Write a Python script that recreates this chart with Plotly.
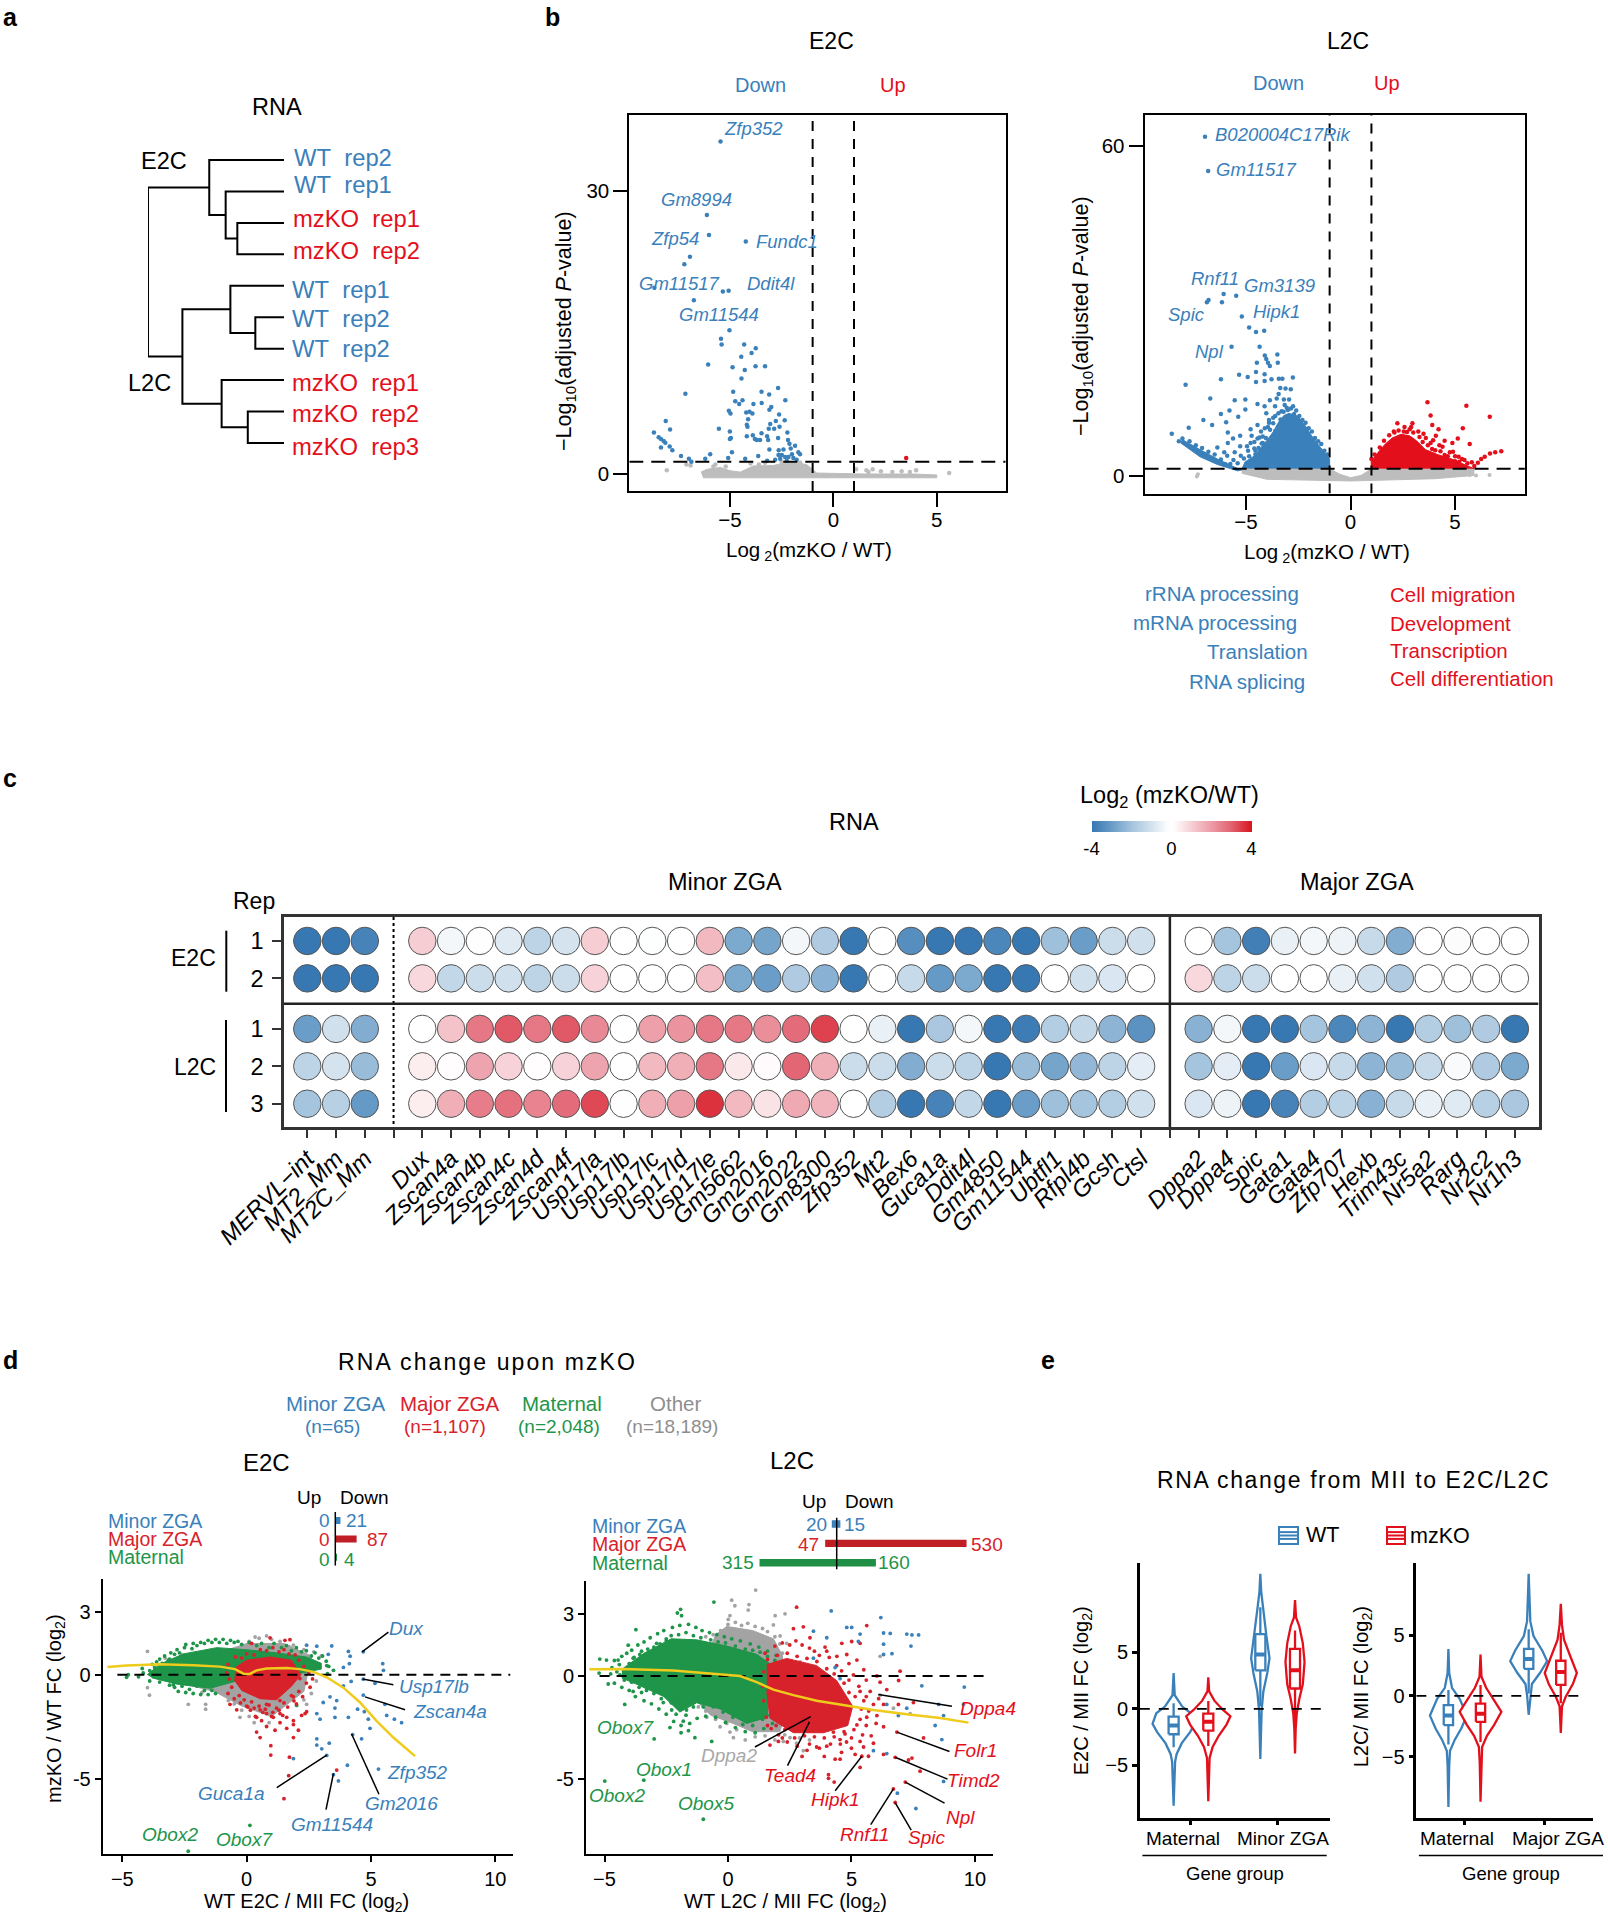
import plotly.graph_objects as go

W, H = 1608, 1920
FONT = "Liberation Sans"
BLUE, RED, GREEN = "#3A80BA", "#E3101C", "#1E9548"
GRAY = "#BDBDBD"
DGRAY = "#A3A3A3"
DRED = "#D8222B"
YELLOW = "#EFCB1B"

# ---------- a: dendrogram ----------
leaf_labels = ["WT rep2", "WT rep1", "mzKO rep1", "mzKO rep2", "WT rep1", "WT rep2", "WT rep2", "mzKO rep1", "mzKO rep2", "mzKO rep3"]
tree = (1.352, (0.743, 0, (0.58, 1, (0.464, 2, 3))),
        (1.01, (0.533, 4, (0.285, 5, 6)), (0.62, 7, (0.36, 8, 9))))

# ---------- b: volcano ----------
e2c_down = [(-5.45,35.2),(-6.11,27.4),(-6.01,25.3),(-4.23,24.6),(-6.93,23.0),(-7.2,22.2),(-8.65,19.7),(-5.34,19.3),(-5.06,19.4),(-6.74,18.4),
 (-5.02,15.2),(-5.43,14.3),(-5.4,13.7),(-4.31,13.7),(-3.75,13.3),(-3.95,12.8),(-4.45,12.4),(-6.05,11.6),(-4.87,11.3),(-3.76,11.4),(-3.3,11.4),
 (-4.28,11.0),(-4.44,10.1),(-7.15,8.5),(-4.84,8.7),(-3.47,8.7),(-2.67,9.1),(-3.1,8.4),(-2.32,7.8),(-4.74,7.7),(-4.55,7.4),(-4.39,7.8),(-3.86,7.4),
 (-3.46,7.5),(-3.0,7.1),(-3.09,6.8),(-5.05,6.7),(-4.97,6.4),(-4.21,6.5),(-4.05,6.6),(-3.91,6.4),(-4.12,5.8),(-4.18,5.2),(-4.15,5.0),(-8.1,5.6),
 (-7.89,4.7),(-8.67,4.4),(-5.53,4.8),(-5.0,4.5),(-3.05,5.3),(-2.78,5.6),(-2.62,6.3),(-2.35,5.7),(-2.6,5.0),(-2.86,4.8),(-3.12,4.8),(-2.22,4.4),
 (-3.47,4.3),(-3.2,4.0),(-3.89,4.1),(-4.18,4.0),(-4.95,3.8),(-5.0,3.7),(-8.44,3.9),(-8.33,3.7),(-8.2,3.5),(-8.12,3.3),(-7.91,2.9),(-8.33,2.8),
 (-7.78,2.5),(-7.36,1.9),(-6.98,1.6),(-6.86,1.3),(-6.19,1.6),(-5.95,2.1),(-4.9,2.3),(-5.08,1.7),(-3.63,1.9),(-4.26,1.6),(-3.79,3.7),(-3.54,3.6),
 (-3.7,3.6),(-3.15,3.6),(-2.67,3.8),(-2.19,3.6),(-2.12,3.2),(-1.85,3.0),(-2.06,2.7),(-1.69,2.3),(-3.09,2.6),(-2.64,2.5),(-2.41,2.6),(-1.61,2.1),
 (-2.17,1.8),(-1.93,1.7),(-2.57,1.6),(-2.81,1.5),(-3.2,1.4),(-2.25,1.4),(-1.77,1.5),(-2.65,2.0),(-2.49,2.0),(-2.33,1.8),(-2.0,2.1)]
e2c_up = [(3.52,1.7)]
e2c_ns_cloud = [(-6.4,0.2),(-6.1,0.5),(-5.46,0.7),(-5.0,0.35),(-4.5,0.2),(-3.86,0.85),(-2.9,0.9),(-2.1,1.3),(-1.29,1.0),(-0.8,0.1),(1.5,0.0),(3.86,0.0),(5.0,-0.1),(5.0,-0.4),(-6.3,-0.4)]
e2c_ns = [(-8.05,0.4),(-7.1,1.0),(-6.9,0.9),(-5.8,0.8),(1.6,0.4),(1.9,0.5),(2.3,0.3),(2.85,0.2),(3.3,0.3),(3.7,0.2),(4.0,0.4),(5.6,0.1),(1.1,0.5),(1.7,0.2),(-5.7,1.0),(-5.2,0.8),(-4.0,1.1),(-3.6,1.0),(-3.3,1.2),(-2.5,1.3),(-1.6,1.2)]

l2c_down = [(-6.96,61.7),(-6.81,55.5),(-6.07,33.1),(-5.47,32.8),(-6.15,31.6),(-6.79,32.0),(-6.87,31.6),(-5.2,29.0),(-4.85,27.0),(-4.52,26.2),(-4.13,26.4),
 (-5.69,23.5),(-4.35,23.5),(-3.5,22.1),(-4.1,21.9),(-4.03,21.3),(-3.95,20.6),(-3.86,20.0),(-4.48,20.6),(-3.48,20.6),(-7.89,16.6),(-6.2,17.6),(-5.33,18.4),
 (-4.92,18.0),(-4.52,18.9),(-4.52,17.1),(-4.11,17.3),(-3.78,17.6),(-4.11,18.5),(-3.43,17.7),(-3.26,17.7),(-2.76,17.9),(-6.71,14.1),(-5.54,13.8),(-5.03,13.9),
 (-3.36,16.0),(-3.11,15.9),(-2.86,15.8),(-3.44,14.9),(-3.53,14.1),(-3.19,13.9),(-2.94,13.9),(-3.86,13.8),(-4.45,13.1),(-4.11,12.7),(-3.61,12.7),(-5.79,11.9),
 (-6.2,11.3),(-5.37,10.8),(-5.03,12.1),(-7.04,10.2),(-6.62,9.3),(-7.74,8.8),(-8.55,7.7),(-8.04,6.8),(-8.21,6.3),(-5.95,9.8),(-5.87,7.9),(-5.62,6.8),(-5.28,7.3),
 (-5.87,6.0),(-5.28,5.4),(-4.78,8.5),(-4.73,7.3),(-4.78,6.0),(-4.45,9.3),(-4.28,8.1),(-4.03,11.4),(-4.45,6.8),(-4.2,6.0),(-6.37,5.2),(-6.04,4.3),(-5.54,4.3),
 (-3.9,10.2),(-3.6,10.9),(-3.3,11.8),(-3.0,12.0),(-2.7,11.3),(-4.6,5.0),(-4.9,4.6),(-3.95,8.9),(-3.7,9.6),(-4.2,7.2),
 (-5.4,2.3),(-5.1,3.2),(-5.0,2.2),(-4.85,3.6),(-4.7,2.7),(-4.55,3.9),(-4.4,5.1),(-4.3,3.3),(-4.15,4.4),(-4.05,6.9),(-3.95,5.6),(-3.85,8.4),(-3.75,4.9),(-3.65,7.6),
 (-3.55,6.4),(-3.45,9.0),(-3.35,10.3),(-3.2,11.7),(-3.05,12.4),(-2.85,12.3),(-2.6,11.9),(-2.45,10.9),(-2.3,10.2),(-2.15,9.7),(-2.0,8.7),(-1.85,8.1),(-1.7,6.9),(-1.55,6.3),
 (-1.4,5.8),(-1.25,4.6),(-1.12,3.9),(-5.6,2.9),(-5.9,3.7),(-6.2,3.0),(-6.5,3.9),(-6.8,4.4),(-7.1,5.1),(-7.4,5.6),(-7.7,6.3),(-5.75,2.2),(-4.95,5.4),(-4.6,6.2),(-4.35,7.0),
 (-4.1,8.7),(-3.9,9.7),(-3.6,8.2),(-3.15,12.9),(-2.75,12.7),(-3.45,11.4),(-3.7,10.6),(-4.55,4.6),(-4.25,5.9),(-5.25,3.7),(-6.0,2.2),(-6.6,3.1),(-7.0,3.9)]
l2c_down_cloud = [(-1.0,1.3),(-1.0,3.1),(-1.44,5.2),(-1.86,7.3),(-2.19,9.3),(-2.53,10.9),(-2.94,11.4),(-3.19,11.0),(-3.44,9.8),(-3.7,8.0),(-4.0,6.5),(-4.3,5.0),(-4.62,3.6),(-5.03,2.6),(-5.2,1.3)]
l2c_down_tail = [(-5.2,1.0),(-6.37,3.1),(-7.2,4.8),(-8.04,6.6),(-8.12,6.0),(-7.2,3.5),(-6.37,2.1),(-5.37,0.9)]
l2c_up_cloud = [(0.99,1.3),(0.99,2.7),(1.32,4.3),(1.66,5.8),(1.99,6.9),(2.41,7.6),(2.83,7.3),(3.16,6.4),(3.58,4.8),(4.16,3.9),(4.83,3.1),(5.67,1.8),(5.92,1.3)]
l2c_up = [(3.68,13.4),(5.54,12.8),(6.66,10.8),(2.24,9.6),(2.96,9.6),(3.83,11.0),(3.91,9.3),(4.21,8.5),(5.37,8.7),(2.58,8.9),(3.49,7.7),(4.08,7.3),(5.13,6.8),
 (4.87,6.0),(5.7,5.8),(4.5,6.4),(3.83,6.0),(4.25,5.6),(4.75,4.3),(5.17,3.5),(7.21,4.5),(6.92,4.3),(6.67,4.1),(6.42,3.5),(6.25,3.1),(6.09,2.4),(5.92,1.8),(2.07,8.1),
 (2.83,8.5),(3.24,8.1),(5.33,3.1),(5.0,2.7),(5.59,2.3),
 (1.15,3.9),(1.4,5.2),(1.6,6.4),(1.85,7.4),(2.1,7.9),(2.3,8.3),(2.55,8.1),(2.7,8.0),(3.0,7.9),(3.3,7.1),(3.45,6.2),(3.7,5.6),(3.9,4.9),(4.05,4.7),(4.3,4.5),(4.5,3.8),(4.65,3.6),
 (5.0,3.6),(5.2,2.6),(5.45,2.9),(5.8,2.5),(1.0,3.1),(2.9,8.9),(3.6,6.9),(3.95,6.5),(4.4,5.3),(4.9,4.4)]
l2c_ns_cloud = [(-5.2,1.3),(-1.0,1.3),(-0.5,0.3),(0.0,-0.3),(0.5,0.1),(1.0,1.3),(5.9,1.3),(5.9,0.1),(4.0,-0.5),(0.0,-0.9),(-4.0,-0.6),(-5.2,0.5)]
l2c_ns = [(-7.3,0.3),(-7.35,-0.1),(5.7,0.2),(6.0,0.1),(6.65,0.2)]

# ---------- c: dot heat map ----------
repeats = ["MERVL\u2212int", "MT2_Mm", "MT2C_Mm"]
minor_genes = ["Dux","Zscan4a","Zscan4b","Zscan4c","Zscan4d","Zscan4f","Usp17la","Usp17lb","Usp17lc","Usp17ld","Usp17le","Gm5662","Gm2016","Gm2022","Gm8300","Zfp352","Mt2","Bex6","Guca1a","Ddit4l","Gm4850","Gm11544","Ubtfl1","Rfpl4b","Gcsh","Ctsl"]
major_genes = ["Dppa2","Dppa4","Spic","Gata1","Gata4","Zfp707","Hexb","Trim43c","Nr5a2","Rarg","Nr2c2","Nr1h3"]
row_tick = ["1","2","1","2","3"]
rep_vals = [[-4,-4,-3.7],[-4,-4,-4],[-3,-1.1,-2.6],[-1.5,-1,-2.2],[-2,-1.6,-3.1]]
minor_vals = [
 [1.0,-.4,-.05,-.8,-1.5,-1.0,1.0,0,-.1,0,1.4,-2.7,-2.8,-.4,-1.8,-4,0,-3.4,-4,-4,-3.6,-4,-2.1,-3,-1.2,-1.1],
 [.8,-1.4,-1.2,-1.1,-1.5,-1.2,.9,0,0,0,1.3,-2.7,-3,-1.8,-2.5,-4,0,-1.3,-3.1,-2.7,-4,-4,0,-1.1,-.9,0],
 [0,1.2,2.6,3.1,2.6,3.1,2.3,0,1.9,2.1,2.6,2.6,2.2,2.8,3.4,0,-.6,-4,-1.9,-.4,-4,-3.9,-1.7,-1.4,-2.4,-3.3],
 [.4,.05,1.8,.9,.05,.9,1.8,0,1.4,1.6,2.6,.5,.1,2.9,1.6,-1.2,-1.2,-2.6,-1.2,-1.5,-4,-2.2,-2.8,-2.3,-1.5,-.7],
 [.4,1.6,2.5,2.7,2.4,2.8,3.3,-.05,1.6,1.9,3.6,1.4,.6,1.7,1.5,0,-1.7,-4,-3.7,-1.4,-4,-3,-2.1,-2,-1.7,-1.1]]
major_vals = [
 [0,-2,-3.8,-.6,-.4,-.5,-1.3,-2.6,0,-.2,0,0],
 [.8,-1.5,-1.2,0,0,-.6,-1.1,-1.8,0,0,0,0],
 [-2.5,-.4,-4,-4,-2,-3.6,-2.4,-4,-1.7,-2.1,-1.8,-4],
 [-2,-.7,-4,-3,-.9,-1.3,-2.4,-2.2,-1.3,-.3,-1.8,-2.7],
 [-.9,-.5,-4,-3.7,-1.7,-1.5,-2.5,-1.3,-.6,-.8,-1.6,-1.9]]
heat_scale = [[0,"#3878B2"],[0.125,"#6A9DC8"],[0.25,"#A5C4DD"],[0.375,"#D5E3EF"],[0.47,"#FBFCFD"],[0.5,"#FFFFFF"],[0.53,"#FEF6F7"],[0.625,"#F6CDD3"],[0.75,"#EC9AA5"],[0.875,"#E2606F"],[1,"#D7141C"]]

# ---------- d: scatter ----------
groups = ["Minor ZGA", "Major ZGA", "Maternal"]
e2c_up_n, e2c_down_n = [0,0,0], [21,87,4]
l2c_up_n, l2c_down_n = [20,47,315], [15,530,160]

d1_other_cloud = [(-3,.3),(-1.3,1.0),(0,1.5),(1.5,1.5),(2.6,.9),(2.3,-.8),(1,-2.0),(-.2,-1.5),(-1.3,-.8),(-3,-.3)]
d1_mat_cloud = [(-4.0,0),(-3.5,.5),(-2.55,1.0),(-1.2,1.3),(0,1.2),(1.2,1.05),(2.41,.85),(3.0,.55),(3.0,.27),(1.87,0),(.5,0),(-1.47,-.65),(-2.8,-.45),(-3.8,-.15)]
d1_maj_cloud = [(-.45,.35),(0,.7),(.94,.85),(1.8,.7),(2.18,0),(1.8,-.55),(1.2,-1.2),(.54,-1.15),(-.2,-.75),(-.5,-.25)]
d1_other = [(-3.99,1.12),(-3.91,-.98),(-3.99,-.62),(-2.35,-1.42),(-1.65,-1.42),(-1.65,-1.65),(-.74,-1.24),(-.27,-2.04),(.34,1.81),(.8,1.86),(1.34,1.6),(1.88,1.42),(2.41,-1.42),(1.2,1.33),(2.55,.8),(-3.28,.8),(-1.2,-.27),(-1.47,-.53),
 (-.9,1.1),(.1,1.6),(.5,1.75),(1.0,1.7),(1.7,1.35),(2.3,1.2),(2.7,1.1),(3.0,.9),(-1.0,-.8),(-.8,-1.0),(-.5,-1.4),(-.2,-1.7),(.1,-2.0),(.3,-2.3),(.9,-2.3),(2.6,-.9),(2.3,-1.2),(2.8,-.3),(-1.8,-.85),(-2.6,.95)]
d1_mat = [(-2.35,-8.46),(.13,-7.22),(3.22,.44),(3.49,.21),(-4.76,0),(-4.83,-.12),(-4.16,.09),(-3.62,.62),(-3.75,0),(-2.95,-.48),(2.01,-1.47),(-3.3,.4),(-3.1,.75),(-3.4,.2),
 (-3.4,.55),(-3.15,.7),(-2.9,.98),(-2.7,1.05),(-2.5,1.3),(-2.2,1.25),(-2.0,1.4),(-1.7,1.5),(-1.4,1.55),(-1.1,1.55),(-.8,1.5),(-.5,1.55),(-.2,1.45),(.4,1.4),(.9,1.3),(1.4,1.3),(1.8,1.15),(2.2,1.1),(2.6,.9),(2.9,.8),(3.2,.65),(3.25,.05),(-3.6,-.1),(-3.2,-.2),(-2.9,-.6),(-2.6,-.55),(-2.3,-.7),(-2.0,-.55),(-1.7,-.75),(-1.4,-.75),(-3.9,.2),(-3.7,.35),
 (-3.8,.5),(-3.5,.75),(-3.3,.9),(-3.05,1.05),(-2.8,1.2),(-2.45,1.45),(-2.15,1.5),(-1.85,1.55),(-1.55,1.65),(-1.25,1.7),(-.95,1.7),(-.65,1.65),(-.35,1.6),(.1,1.55),(.6,1.5),(1.1,1.5),(1.6,1.4),(2.0,1.3),(2.4,1.15),(2.75,1.05),(3.05,.9),(3.3,.4),(-3.9,-.3),(-3.5,-.35),(-3.1,-.5),(-2.75,-.8),(-2.45,-.85),(-2.15,-.9),(-1.85,-.95),(-1.55,-.95),(-1.25,-.9),(-4.2,.3),(-4.35,-.1)]
d1_maj = [(.94,1.77),(1.54,1.65),(1.74,1.68),(.2,1.5),(.54,-1.68),(.8,-1.86),(1.07,-2.04),(1.34,-1.86),(1.61,-2.04),(1.88,-2.2),(2.41,-1.77),(2.21,-1.95),(.4,-2.75),(.54,-3.01),(.8,-2.48),(1.14,-2.66),(1.61,-2.57),(2.08,-2.66),(1.88,-3.01),(.97,-3.4),(.97,-3.85),(1.72,-3.95),(1.69,-4.84),(1.5,-5.94),(3.62,-4.57),(-.67,-1.42),(-.4,-1.68),(0,-1.5),(.4,-2.04),(.8,-1.42),(1.34,-2.3),(2.35,-1.86),(1.34,-1.24),(1.88,-1.06),(2.14,-.18),(1.88,-2.39),
 (-.6,-.6),(-.7,-.2),(-.3,-1.0),(-.1,-1.2),(.2,-1.3),(.5,-1.5),(.9,-1.45),(1.2,-1.6),(1.5,-1.35),(1.8,-1.0),(2.1,-.8),(2.4,-.4),(2.5,.1),(2.3,.4),(2.1,.7),(1.7,1.0),(1.3,1.1),(.8,1.15),(.3,.95),(-.2,.8),(.65,-1.8),(.15,-1.7),(1.0,-2.0),(1.45,-1.95),(2.0,-1.4),
 (-.75,-.9),(-.5,-1.15),(-.25,-1.35),(.05,-1.55),(.3,-1.6),(.75,-1.65),(1.05,-1.8),(1.3,-1.7),(1.65,-1.55),(1.9,-1.25),(2.25,-1.05),(2.55,-.6),(2.65,-.2),(-.8,.1),(-.75,.5),(-.45,.85),(0,1.0),(.55,1.2),(1.05,1.3),(1.5,1.2),(1.95,.95),(.35,-2.0),(.6,-2.2)]
d1_min = [(2.41,1.42),(2.82,1.37),(3.42,1.38),(3.28,.98),(4.09,1.12),(4.16,.89),(4.13,.53),(3.89,.35),(4.69,1.1),(5.47,.53),(5.5,.21),(4.2,-.32),(3.89,-.53),(5.16,-.41),(4.69,-.21),(4.69,-.98),(3.08,-1.33),(3.35,-1.06),(3.62,-1.24),(3.55,-1.6),(2.82,-1.86),(2.95,-2.13),(3.55,-2.04),(4.09,-2.04),(4.46,-1.65),(4.73,-1.77),(4.89,-2.13),(4.96,-2.57),(4.62,-3.07),(4.26,-2.87),(2.82,-3.07),(2.82,-3.37),(3.02,-3.55),(3.32,-3.28),(3.22,-3.87),(1.88,-4.02),(4.05,-4.34),(3.49,-4.79),(3.69,-5.09),(5.3,-4.52),(5.63,-1.95),(5.94,-2.13),(6.23,-2.3),(5.56,-1.42)]
d1_fit = [(-5.6,.37),(-4.83,.44),(-3.49,.5),(-2.14,.46),(-1.07,.39),(-.47,.27),(-.13,.05),(.13,.04),(.4,.21),(.8,.3),(1.61,.32),(2.14,.27),(2.68,.14),(3.22,-.12),(3.89,-.62),(4.56,-1.33),(5.23,-2.22),(5.9,-3.01),(6.77,-3.9)]
d1_leaders = [((5.7,2.04),(4.64,1.1)),((5.9,-.48),(4.66,-.2)),((6.37,-1.68),(4.76,-1.06)),((5.32,-5.73),(4.22,-2.84)),((3.19,-6.47),(3.49,-4.73)),((1.21,-5.41),(3.22,-3.85))]

d2_other_cloud = [(-1,.5),(-.5,2.0),(-.05,2.4),(1,2.2),(1.84,1.8),(2.2,1),(2.4,-1.5),(2.1,-2.7),(1,-2.7),(.2,-2.3),(-.7,-1.9),(-1.2,-1.3)]
d2_mat_cloud = [(-4.3,.32),(-3.4,1.1),(-2.3,1.8),(-1.27,1.75),(-.05,1.45),(1.16,1.05),(1.75,.55),(1.6,-.75),(1.6,-2.0),(.76,-2.3),(-.32,-1.6),(-1.27,-1.3),(-1.95,-1.75),(-2.6,-1.0),(-3.7,-.4),(-4.3,-.1)]
d2_maj_cloud = [(1.57,.55),(2.38,.85),(3.59,.5),(4.4,-.22),(5.05,-1.47),(4.85,-2.4),(3.86,-2.75),(2.65,-2.75),(1.7,-2.05),(1.57,-.75)]
d2_other = [(1.12,4.16),(.15,3.67),(.28,3.4),(.85,3.46),(.82,3.19),(.08,2.92),(.01,2.74),(1.91,2.92),(2.31,3.01),(1.84,2.47),(2.11,1.94),(2.38,1.58),(2.92,.68),(6.16,.95),(.08,-2.72),(.22,-2.99),(-.32,-2.46),(-.86,-2),(2.24,-3.17),(2.51,-2.99),(3.05,-3.62),(2.78,-3.26),(6.16,-.93),(6.7,-1.56),(7.38,-1.83),
 (-.3,2.2),(0,2.5),(.3,2.6),(.55,2.45),(.8,2.55),(1.1,2.4),(1.4,2.3),(1.6,2.15),(1.9,1.9),(2.1,1.55),(2.2,1.1),(2.5,-1.6),(2.6,-2.3),(2.3,-2.85),(1.9,-3.1),(1.5,-2.9),(1.1,-2.95),(.7,-3.1),(.35,-2.6),(-.05,-2.3),(-.5,-2.1),(-.9,-1.7),(-1.2,-1.5),(-.6,2.0),(-.9,1.9),(2.9,-3.0),(3.3,-3.1)]
d2_mat = [(-4.99,-5.09),(-3.41,-5.05),(-1,-6.94),(-2.99,-3.05),(-4.18,-1.38),(-5.19,.82),(-4.92,.77),(-5.22,.14),(-4.85,-.39),(-4.45,.77),(-3.73,2.24),(-1.92,3.23),(-1.88,2.92),(-2.05,3.05),(-.57,3.58),(-4.04,1.49),(-4.38,.05),(-1.81,-2.19),(-.66,-3.17),(-1.34,-2.99),(-2.89,1.58),(-3.57,1.04),(-3.84,.86),(-3.3,-.57),(-2.62,-1.29),(-2.28,-1.65),(-1.68,-1.65),(-3.84,-.75),(-3.0,.9),(-3.1,-.1),(-3.9,.4),(-3.5,-.8),(-2.2,-1.1),(-2.5,1.7),
 (-4.4,.55),(-4.0,.6),(-3.8,.9),(-3.5,1.2),(-3.25,1.3),(-3.0,1.4),(-2.75,1.55),(-2.5,1.8),(-2.3,1.95),(-2.0,2.0),(-1.7,2.1),(-1.4,1.95),(-1.1,1.85),(-.7,1.75),(-.4,1.65),(-.1,1.6),(.3,1.45),(.7,1.3),(1.0,1.25),(1.3,1.15),(1.6,.95),(1.9,.75),(1.75,-.4),(1.75,-1.2),(1.7,-1.9),(1.4,-2.1),(1.0,-2.4),(.6,-2.35),(.2,-2.0),(-.2,-1.75),(-.6,-1.5),(-1.0,-1.5),(-1.4,-1.5),(-1.7,-1.9),(-2.1,-1.85),(-2.3,-1.3),(-2.7,-1.1),(-3.0,-.85),(-3.3,-.7),(-3.6,-.55),(-3.9,-.3),(-4.2,-.2),(-4.5,.2),(-4.7,.4),
 (-4.75,.1),(-4.6,.75),(-4.3,.95),(-4.1,1.1),(-3.9,1.25),(-3.65,1.5),(-3.4,1.65),(-3.15,1.85),(-2.85,2.05),(-2.6,2.2),(-2.25,2.35),(-1.95,2.45),(-1.6,2.5),(-1.3,2.35),(-1.05,2.2),(-.75,2.1),(-.45,2.0),(-.15,1.9),(.15,1.8),(.5,1.7),(.9,1.55),(1.25,1.4),(1.6,1.2),(1.95,1.0),(2.0,.4),(-4.6,-.35),(-4.3,-.55),(-4.0,-.7),(-3.75,-1.0),(-3.4,-1.2),(-3.1,-1.35),(-2.8,-1.6),(-2.5,-1.85),(-2.2,-2.2),(-1.9,-2.4),(-1.55,-2.3),(-1.25,-2.05),(-.9,-1.95),(-.5,-2.0),(-.1,-2.25),(.3,-2.5),(.7,-2.7),(1.1,-2.75),(1.45,-2.55),(1.8,-2.3),(1.85,-1.5),(1.85,-.8),(-1.9,-2.75),(-2.35,-2.5),(-1.6,-2.65)]
d2_maj = [(2.78,3.33),(2.65,2.29),(3.05,2.38),(3.32,1.85),(3.93,1.4),(4.61,1.58),(5.62,2.44),(5.01,1.67),(5.35,1.58),(4.81,1.04),(4.41,.95),(5.22,.77),(5.08,.05),(6.03,0),(6.16,-.3),(6.97,.23),(6.91,-.22),(5.35,-.75),(5.76,-.75),(6.43,-.66),(5.89,-1.38),(6.3,-1.38),(6.9,-1.38),(7.51,-1.29),(5.62,-2.0),(6.03,-1.92),(6.3,-2.46),(6.84,-2.72),(7.92,-3.0),(5.89,-3.26),(5.35,-3.17),(5.49,-3.44),(5.69,-3.89),(6.3,-3.8),(6.77,-3.94),(7.31,-4.07),(7.45,-3.98),(7.78,-4.61),(5.42,-3.89),(5.35,-4.43),(5.15,-3.8),(4.54,-4.03),(4.34,-4.03),(4.07,-4.78),(4.07,-4.96),(4.3,-5.14),(7.18,-5.14),(6.7,-5.47),(6.77,-6.13),(1.7,-3.35),(2.04,-3.17),(3.59,-3.44),(4.54,-3.08),(4.27,-2.72),(5.22,-2.37),(4.74,-2.81),
 (1.6,.8),(2.0,1.0),(2.4,1.1),(2.8,.95),(3.2,.85),(3.6,.7),(4.0,.35),(4.3,.1),(4.7,-.35),(4.9,-.8),(5.15,-1.0),(5.4,-1.6),(5.35,-2.1),(5.1,-2.6),(4.7,-2.7),(4.3,-2.95),(3.9,-3.0),(3.5,-2.95),(3.1,-2.9),(2.7,-3.0),(2.3,-2.6),(1.95,-2.4),(1.55,-2.0),(1.45,-1.2),(1.4,-.5),(1.45,.2),(2.2,-3.0),(3.3,-3.3),(4.0,-3.4),(4.8,-3.2),(5.6,-1.0),(5.6,-.2),(3.0,1.5),(3.5,1.2),(2.2,1.6),(4.1,.9),
 (1.5,1.1),(1.9,1.45),(2.5,1.5),(2.75,1.7),(3.3,1.35),(3.7,1.0),(4.0,1.2),(4.4,.5),(4.6,.25),(4.9,-.2),(5.3,-.5),(5.5,-1.2),(5.7,-1.7),(5.6,-2.4),(5.45,-2.85),(5.0,-3.0),(4.55,-3.3),(4.15,-3.3),(3.7,-3.5),(3.2,-3.6),(2.8,-3.4),(2.4,-3.2),(2.05,-2.85),(1.75,-2.55),(1.6,-2.4),(4.9,.6),(5.5,.3),(6.1,-1.1),(6.0,-2.3),(5.8,-2.9),(3.0,-3.9),(3.9,-3.9),(4.6,-3.7),(5.0,-3.5)]
d2_min = [(4.18,3.15),(6.19,2.83),(4.81,2.35),(5.01,2.35),(3.46,2.17),(4,1.85),(5.35,2.03),(5.28,1.67),(6.3,2.08),(6.57,2.06),(7.24,2.03),(7.45,1.99),(7.72,1.99),(7.41,1.45),(6.3,1.54),(6.64,1.08),(6.3,1.04),(7.85,-.48),(9.57,-.54),(9.54,-1.38),(8.53,-1.38),(8.73,-1.92),(8.39,-2.4),(8.66,-3.08),(6.43,-3.76),(5.89,-3.62),(8.73,-5.11),(6.86,-5.68),(7.61,-6.42),(6.43,-1.38),(6.9,-1.92),(7.24,-1.56),(4.54,-.13),(4.34,.41),(3.46,.86)]
d2_fit = [(-5.62,.32),(-4.24,.34),(-2.22,.27),(-.59,.11),(.49,0),(1.16,-.3),(1.84,-.66),(2.65,-.93),(3.59,-1.2),(4.54,-1.38),(5.89,-1.65),(7.24,-1.86),(8.59,-2.04),(9.74,-2.26)]
d2_leaders = [((9.07,-1.47),(6.09,-.9)),((8.97,-3.66),(6.84,-2.72)),((8.89,-5),(6.77,-3.94)),((8.77,-6.16),(7.18,-5.14)),((7.42,-7.47),(6.77,-6.13)),((5.78,-7.2),(6.7,-5.47)),((4.34,-5.56),(5.42,-3.89)),((2.41,-4.34),(3.3,-2.22)),((1.09,-3.44),(3.35,-1.97))]

# ---------- e: violins (level, half width) + (q1, median, q3, whisker low, whisker high) ----------
e_left = [
 (0, -0.2, BLUE, [3.18,1.2,.2,-.4,-1.34,-2.07,-3.05,-4.03,-4.7,-8.6], [0,.013,.1,.2,.243,.19,.094,.034,.017,0], (-2.26,-1.48,-.69,-3.4,.5)),
 (0, 0.2, RED, [2.79,1.54,.72,-.1,-.66,-1.4,-2.39,-3.38,-4.36,-8.2], [0,.01,.07,.17,.255,.21,.12,.05,.015,0], (-1.93,-1.15,-.43,-3.3,.7)),
 (1, -0.2, BLUE, [11.97,10.4,9.08,7.77,6.46,4.49,3.18,1.54,-.1,-4.46], [0,.01,.03,.05,.07,.106,.08,.035,.015,0], (3.41,4.82,6.62,.23,9.0)),
 (1, 0.2, RED, [9.64,8.1,7.3,5.8,4.16,2.2,.89,-.43,-1.74,-3.97], [0,.012,.05,.09,.11,.09,.05,.02,.008,0], (1.8,3.41,5.31,-1.08,6.95)),
]
e_right = [
 (0, -0.2, BLUE, [3.87,1.89,.67,-.24,-1.62,-2.68,-3.6,-4.51,-5.73,-9.15], [0,.01,.045,.14,.23,.16,.08,.02,.01,0], (-2.41,-1.62,-.76,-4.0,.5)),
 (0, 0.2, RED, [3.41,1.59,.67,-.09,-1.31,-2.38,-3.29,-4.2,-5.43,-8.72], [0,.012,.07,.14,.26,.17,.08,.02,.01,0], (-2.13,-1.46,-.64,-3.8,.9)),
 (1, -0.2, BLUE, [10.06,7.99,6.16,4.94,3.72,2.87,1.89,.98,.06,-1.55], [0,.008,.02,.06,.17,.23,.14,.04,.02,0], (2.23,3.05,3.87,.2,5.5)),
 (1, 0.2, RED, [7.59,5.85,4.63,3.41,1.89,.98,-.09,-.85,-3.05], [0,.015,.04,.11,.2,.15,.06,.015,0], (.91,1.98,2.9,-.6,5.2)),
]

# ========== figure ==========
fig = go.Figure()
layout = dict(width=W, height=H, margin=dict(l=0, r=0, t=0, b=0, autoexpand=False), paper_bgcolor="white", plot_bgcolor="white",
              showlegend=False, font=dict(family=FONT, color="black", size=20), annotations=[], shapes=[])

def axes(n, rect, xr, yr, xkw=None, ykw=None):
    x0, y0, x1, y1 = rect
    base = dict(showgrid=False, zeroline=False, showline=False, showticklabels=False, ticks="", fixedrange=True, color="black")
    xa = dict(base, domain=[x0 / W, x1 / W], range=xr, anchor=f"y{n}")
    ya = dict(base, domain=[1 - y1 / H, 1 - y0 / H], range=yr, anchor=f"x{n}")
    xa.update(xkw or {}); ya.update(ykw or {})
    layout[f"xaxis{n}"] = xa
    layout[f"yaxis{n}"] = ya
    return dict(xaxis=f"x{n}", yaxis=f"y{n}")

def T(text, x, y, size=20, color="black", anchor="center", angle=0, spacing=None):
    if anchor == "left":
        x -= 2
    elif anchor == "right":
        x += 2
    if spacing:
        text = f'<span style="letter-spacing:{spacing}px">{text}</span>'
    layout["annotations"].append(dict(text=text, x=x / W, y=1 - y / H, xref="paper", yref="paper", showarrow=False,
        xanchor=anchor, yanchor="middle", textangle=angle, font=dict(size=size, color=color, family=FONT)))

def pts(tr, data, color, size):
    fig.add_trace(go.Scatter(x=[p[0] for p in data], y=[p[1] for p in data], mode="markers",
        marker=dict(color=color, size=size, line=dict(width=0)), hoverinfo="skip", **tr))

def cloud(tr, poly, color):
    fig.add_trace(go.Scatter(x=[p[0] for p in poly], y=[p[1] for p in poly], mode="lines", fill="toself",
        fillcolor=color, line=dict(color=color, width=1), hoverinfo="skip", **tr))

def line(tr, xs, ys, color="black", width=2, dash=None):
    fig.add_trace(go.Scatter(x=xs, y=ys, mode="lines", line=dict(color=color, width=width, dash=dash), hoverinfo="skip", **tr))

for s, x, y in [("a", 10, 17), ("b", 552, 17), ("c", 10, 778), ("d", 10, 1360), ("e", 1048, 1360)]:
    T(f"<b>{s}</b>", x, y, 25)

# --- a ---
tr = axes(1, (148, 155, 284, 448), [1.352, 0], [9.16, -0.16])
seg_x, seg_y = [], []
def walk(node):
    if isinstance(node, int):
        return 0.0, node
    h, a, b = node
    ha, ya = walk(a)
    hb, yb = walk(b)
    seg_x.extend([ha, h, h, hb, None])
    seg_y.extend([ya, ya, yb, yb, None])
    return h, (ya + yb) / 2
walk(tree)
line(tr, seg_x, seg_y, width=2)
T("RNA", 277, 107, 23.5)
T("E2C", 164, 161, 23.5)
T("L2C", 149, 383, 23.5)
lab_xy = [(294,157),(294,185),(293,219),(293,250),(292,289),(292,318),(292,348),(292,382),(292,413),(292,447)]
for name, (x, y) in zip(leaf_labels, lab_xy):
    T(name.replace(" ", "\u00a0 "), x, y, 23.8, BLUE if name.startswith("WT") else RED, "left")

# --- b ---
def volcano(n, rect, xr, yr, ytickv):
    xkw = dict(showline=True, mirror=True, linewidth=2, linecolor="black", ticks="outside", ticklen=14, tickwidth=2, tickcolor="black",
               tickvals=[-5, 0, 5], ticktext=["\u22125", "0", "5"], showticklabels=True, tickfont=dict(size=20.5), ticklabelstandoff=-5)
    ykw = dict(xkw, tickvals=ytickv, ticktext=[str(v) for v in ytickv], ticklabelstandoff=0)
    return axes(n, rect, xr, yr, xkw, ykw)

tr = volcano(2, (629.3, 115.4, 1005.7, 491), [-9.86, 8.33], [-1.8, 37.95], [0, 30])
cloud(tr, e2c_ns_cloud, GRAY)
pts(tr, e2c_ns, GRAY, 4.5)
pts(tr, e2c_down, BLUE, 4.5)
pts(tr, e2c_up, RED, 4.5)
for v in (-1, 1):
    line(tr, [v, v], [-1.8, 37.95], dash="10px,8px")
line(tr, [-9.86, 8.33], [1.3, 1.3], dash="14px,8px")

tr = volcano(3, (1144.6, 114.8, 1524.9, 493.6), [-9.85, 8.34], [-3.2, 65.7], [0, 60])
cloud(tr, l2c_ns_cloud, GRAY)
pts(tr, l2c_ns, GRAY, 4)
cloud(tr, l2c_down_cloud, BLUE)
cloud(tr, l2c_down_tail, BLUE)
cloud(tr, l2c_up_cloud, RED)
pts(tr, l2c_down, BLUE, 4.5)
pts(tr, l2c_up, RED, 4.5)
for v in (-1, 1):
    line(tr, [v, v], [-3.2, 65.7], dash="10px,8px")
line(tr, [-9.85, 8.34], [1.3, 1.3], dash="14px,8px")

T("E2C", 831, 41.5, 23); T("L2C", 1348, 41, 23)
T("Down", 760, 84.5, 20, BLUE); T("Up", 893, 84.5, 20, RED)
T("Down", 1278, 83, 20, BLUE); T("Up", 1386.5, 83, 20, RED)
xt = "Log<sub> 2</sub>(mzKO / WT)"
T(xt, 809, 551, 20.5); T(xt, 1327, 553, 20.5)
yt = "\u2212Log<sub>10</sub>(adjusted <i>P</i>-value)"
T(yt, 566, 331, 21.5, angle=-90); T(yt, 1083, 316, 21.5, angle=-90)
for s, x, y in [("Zfp352",753,129),("Gm8994",696,200),("Zfp54",675,238),("Fundc1",787,242),("Gm11517",679,283),("Ddit4l",771,283),("Gm11544",719,314),
                ("B020004C17Rik",1283,134.5),("Gm11517",1256.4,170),("Rnf11",1214.5,278),("Gm3139",1279,286),("Spic",1186,314),("Hipk1",1276,311),("Npl",1209,351)]:
    T(f"<i>{s}</i>", x, y, 18.5, BLUE)
for s, x, y in [("rRNA processing",1298.7,593),("mRNA processing",1297,622.6),("Translation",1307.5,651),("RNA splicing",1305,681)]:
    T(s, x, y, 20.5, BLUE, "right")
for s, x, y in [("Cell migration",1390,595),("Development",1390,623),("Transcription",1390,650.6),("Cell differentiation",1390,678.6)]:
    T(s, x, y, 20.5, RED, "left")

# --- c ---
col_x = list(range(3)) + list(range(4, 30)) + list(range(31, 43))
col_lab = repeats + minor_genes + major_genes
row_y = [0, 1, 2.35, 3.35, 4.35]
tr = axes(4, (284, 917, 1538.5, 1127.3), [-0.81, 42.82], [4.98, -0.64],
          dict(showline=True, mirror=True, linewidth=2.5, linecolor="#333333", ticks="outside", ticklen=8, tickwidth=1.5, tickcolor="#333333",
               tickvals=col_x, ticktext=col_lab, showticklabels=True, tickangle=-45, ticklabelstandoff=-3,
               minor=dict(tickvals=[3, 30], ticks="outside", ticklen=8, tickwidth=1.5, tickcolor="#333333"),
               tickfont=dict(size=24, style="italic")),
          dict(showline=True, mirror=True, linewidth=2.5, linecolor="#333333", ticks="outside", ticklen=9, tickwidth=1.5, tickcolor="#333333",
               tickvals=row_y, ticktext=row_tick, showticklabels=True, ticklabelstandoff=4, tickfont=dict(size=23.5)))
hx, hy, hc = [], [], []
for r, ry in enumerate(row_y):
    vals = rep_vals[r] + minor_vals[r] + major_vals[r]
    for c, v in zip(col_x, vals):
        hx.append(c); hy.append(ry); hc.append(v)
line(tr, [3, 3], [-0.64, 4.98], dash="3px,3px", width=2)
line(tr, [30, 30], [-0.64, 4.98], width=2.5, color="#222222")
line(tr, [-0.81, 42.82], [1.68, 1.68], width=2.5, color="#222222")
fig.add_trace(go.Scatter(x=hx, y=hy, mode="markers", hoverinfo="skip", **tr,
    marker=dict(size=27.5, color=hc, cmin=-4, cmax=4, colorscale=heat_scale, line=dict(color="#555555", width=1),
                colorbar=dict(orientation="h", x=1171.5 / W, xanchor="center", y=1 - 820.7 / H, yanchor="top", len=160, lenmode="pixels",
                              thickness=11, thicknessmode="pixels", xpad=0, ypad=0, outlinewidth=0, ticks="", tickvals=[-4, 0, 4],
                              ticktext=["-4", "0", "4"], tickfont=dict(size=18.5)))))
T("RNA", 854, 822, 23.5)
T("Log<sub>2</sub> (mzKO/WT)", 1169.4, 797, 23.5)
T("Minor ZGA", 725, 881.7, 23.5); T("Major ZGA", 1356.6, 881.7, 23.5)
T("Rep", 254, 900.7, 23)
T("E2C", 193.7, 958, 23); T("L2C", 194.7, 1066.7, 23)
layout["shapes"] += [
    dict(type="line", xref="paper", yref="paper", x0=226.3/W, x1=226.3/W, y0=1-930.7/H, y1=1-991.7/H, line=dict(color="black", width=2)),
    dict(type="line", xref="paper", yref="paper", x0=226/W, x1=226/W, y0=1-1020/H, y1=1-1112/H, line=dict(color="black", width=2))]

# --- d ---
def scatter_axes(n, rect, xr, yr):
    common = dict(showline=True, linewidth=2, linecolor="black", ticks="outside", ticklen=6, tickwidth=2, tickcolor="black", showticklabels=True, tickfont=dict(size=20))
    return axes(n, rect, xr, yr, dict(common, tickvals=[-5, 0, 5, 10], ticktext=["\u22125", "0", "5", "10"]),
                dict(common, tickvals=[3, 0, -5], ticktext=["3", "0", "-5"]))

def panel_d(tr, other_c, mat_c, maj_c, other, mat, maj, minr, fit, leaders, s=3.8):
    cloud(tr, other_c, DGRAY)
    pts(tr, other, DGRAY, s)
    cloud(tr, mat_c, GREEN)
    pts(tr, mat, GREEN, s)
    cloud(tr, maj_c, DRED)
    pts(tr, maj, DRED, s)
    pts(tr, minr, BLUE, s)
    line(tr, [-5.2, 10.6], [0, 0], dash="10px,7px", width=2)
    line(tr, [p[0] for p in fit], [p[1] for p in fit], YELLOW, 2.5)
    lx, ly = [], []
    for a, b in leaders:
        lx += [a[0], b[0], None]; ly += [a[1], b[1], None]
    line(tr, lx, ly, width=1.5)

tr = scatter_axes(5, (102.7, 1578.6, 513, 1853.5), [-5.79, 10.71], [-8.57, 4.61])
panel_d(tr, d1_other_cloud, d1_mat_cloud, d1_maj_cloud, d1_other, d1_mat, d1_maj, d1_min, d1_fit, d1_leaders)
tr = scatter_axes(6, (586, 1581, 992.7, 1853.5), [-5.75, 10.72], [-8.6, 4.6])
panel_d(tr, d2_other_cloud, d2_mat_cloud, d2_maj_cloud, d2_other, d2_mat, d2_maj, d2_min, d2_fit, d2_leaders)

bar_colors = [BLUE, "#BE1E24", "#1F8F45"]
text_colors = [BLUE, DRED, GREEN]
def mini(n, rect, cx, up, down, row0, step):
    x0, y0, x1, y1 = rect
    xr = [(x0 - cx) / .245, (x1 - cx) / .245]
    yr = [(y1 - row0) / step, (y0 - row0) / step]
    tr = axes(n, rect, xr, yr)
    fig.add_trace(go.Bar(y=[0, 1, 2], x=[u + d for u, d in zip(up, down)], base=[-u for u in up], orientation="h",
                         marker=dict(color=bar_colors, line=dict(width=0)), width=0.38, hoverinfo="skip", **tr))
    line(tr, [0, 0], yr, width=1.5)

mini(7, (240, 1512, 440, 1565.7), 335.3, e2c_up_n, e2c_down_n, 1520.5, 18.4)
mini(8, (750, 1517.6, 980, 1569.4), 836.7, l2c_up_n, l2c_down_n, 1524, 19.35)
layout["barmode"] = "overlay"

T("RNA change upon mzKO", 487, 1361.5, 23, spacing=2.1)
for s, n, x1, x2, c in [("Minor ZGA","(n=65)",335,332,BLUE),("Major ZGA","(n=1,107)",449,445,DRED),("Maternal","(n=2,048)",562,559,GREEN),("Other","(n=18,189)",675,672,"#8E8E8E")]:
    T(s, x1, 1403, 20.5, c); T(n, x2, 1426.6, 19, c)
T("E2C", 266.7, 1462, 24); T("L2C", 792, 1460, 24)
T("Up", 309, 1497, 19); T("Down", 364, 1497, 19)
T("Up", 814, 1501, 19); T("Down", 869, 1501, 19)
for g, c, y1, y2 in zip(groups, text_colors, [1520.5, 1539, 1557], [1525.7, 1544, 1563]):
    T(g, 108, y1, 19.5, c, "left"); T(g, 591.5, y2, 19.5, c, "left")
for i, (c, y) in enumerate(zip(text_colors, [1520.5, 1539, 1559])):
    T(str(e2c_up_n[i]), 324, y, 19, c)
for i, (c, x, y) in enumerate(zip(text_colors, [346, 367, 344], [1520.5, 1539, 1559])):
    T(str(e2c_down_n[i]), x, y, 19, c, "left")
for i, (c, x, y) in enumerate(zip(text_colors, [826.7, 818.7, 754], [1524, 1544, 1562])):
    T(str(l2c_up_n[i]), x, y, 19, c, "right")
for i, (c, x, y) in enumerate(zip(text_colors, [844, 971, 878], [1524, 1544, 1562])):
    T(str(l2c_down_n[i]), x, y, 19, c, "left")
T("mzKO / WT FC (log<sub>2</sub>)", 55, 1708, 20, angle=-90)
T("WT E2C / MII FC (log<sub>2</sub>)", 306.7, 1902, 20)
T("WT L2C / MII FC (log<sub>2</sub>)", 785, 1902, 20)
for s, x, y, c in [("Dux",406.7,1628.6,BLUE),("Usp17lb",434,1686,BLUE),("Zscan4a",450,1711,BLUE),("Zfp352",417,1772,BLUE),("Gm2016",401.7,1803,BLUE),
                   ("Gm11544",332,1824.6,BLUE),("Guca1a",231.7,1793,BLUE),("Obox2",170,1834,GREEN),("Obox7",245,1839.5,GREEN),
                   ("Dppa4",987.7,1708.8,RED),("Folr1",975,1750,RED),("Timd2",973,1780,RED),("Npl",960.7,1817,RED),("Spic",926.7,1837.6,RED),("Rnf11",864,1834.6,RED),
                   ("Hipk1",835,1799.5,RED),("Tead4",790,1775.4,RED),("Dppa2",729,1755,"#A8A8A8"),("Obox7",625.7,1727.3,GREEN),("Obox1",664,1769,GREEN),("Obox2",617,1795,GREEN),("Obox5",705.7,1803,GREEN)]:
    T(f"<i>{s}</i>", x, y, 19, c)

# --- e ---
def violin_panel(n, rect, xr, yr, ytv, ytt, items, dash_end):
    common = dict(showline=True, linewidth=2.5, linecolor="black", ticks="outside", ticklen=5, tickwidth=2.5, tickcolor="black")
    tr = axes(n, rect, xr, yr, dict(common, tickvals=[0, 1], showticklabels=False),
              dict(common, tickvals=ytv, ticktext=ytt, showticklabels=True, tickfont=dict(size=20)))
    for pos, off, col, lev, hw, (q1, med, q3, lo, hi) in items:
        c = pos + off
        vx = [c - w for w in hw] + [c + w for w in reversed(hw)]
        vy = lev + list(reversed(lev))
        fig.add_trace(go.Scatter(x=vx, y=vy, mode="lines", fill="toself", fillcolor="white", line=dict(color=col, width=2.3), hoverinfo="skip", **tr))
        line(tr, [c, c], [lo, hi], col, 2.3)
        b = 0.058
        fig.add_trace(go.Scatter(x=[c-b, c+b, c+b, c-b, c-b], y=[q1, q1, q3, q3, q1], mode="lines", fill="toself", fillcolor="white", line=dict(color=col, width=2.3), hoverinfo="skip", **tr))
        line(tr, [c-b, c+b], [med, med], col, 4)
    line(tr, [xr[0], dash_end], [0, 0], dash="10px,9px", width=1.8)

violin_panel(9, (1139.8, 1563, 1329.7, 1817.6), [-.59, 1.6], [-9.65, 12.93], [5, 0, -5], ["5", "0", "\u22125"], e_left, 1.6)
violin_panel(10, (1416.3, 1563, 1592.9, 1817.6), [-.6, 1.6], [-10.02, 10.95], [5, 0, -5], ["5", "0", "\u22125"], e_right, 1.52)
T("RNA change from MII to E2C/L2C", 1353.6, 1479.5, 23, spacing=1.6)
T("WT", 1305.7, 1535, 21.5, anchor="left"); T("mzKO", 1410.4, 1536, 21.5, anchor="left")
for x0, x1, col in [(1279, 1298, BLUE), (1387, 1405, RED)]:
    y0, y1 = 1527, 1544
    layout["shapes"].append(dict(type="rect", xref="paper", yref="paper", x0=x0/W, x1=x1/W, y0=1-y0/H, y1=1-y1/H, line=dict(color=col, width=2)))
    for frac in (0.3, 0.5, 0.7):
        y = y0 + (y1 - y0) * frac
        layout["shapes"].append(dict(type="line", xref="paper", yref="paper", x0=x0/W, x1=x1/W, y0=1-y/H, y1=1-y/H, line=dict(color=col, width=2)))
T("Maternal", 1183, 1838, 19); T("Minor ZGA", 1283, 1838, 19)
T("Maternal", 1456.5, 1838, 19); T("Major ZGA", 1557.8, 1838, 19)
T("Gene group", 1235.3, 1873, 18.5); T("Gene group", 1511.4, 1873, 18.5)
for a, b in [(1142.4, 1326.7), (1418.9, 1603)]:
    layout["shapes"].append(dict(type="line", xref="paper", yref="paper", x0=a/W, x1=b/W, y0=1-1855.4/H, y1=1-1855.4/H, line=dict(color="black", width=1.5)))
T("E2C / MII FC (log<sub>2</sub>)", 1082.7, 1690.6, 20, angle=-90)
T("L2C/ MII FC (log<sub>2</sub>)", 1362.5, 1686.8, 20, angle=-90)

fig.update_layout(**layout)
fig.write_html("out.html", config={"displayModeBar": False},
               post_script="document.body.style.margin='0';document.documentElement.style.overflow='hidden';")
